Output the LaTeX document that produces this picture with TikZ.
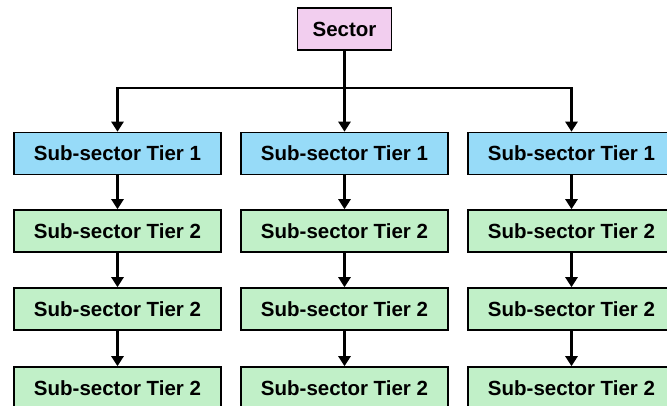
\documentclass[tikz,border=0pt]{standalone}
\usepackage{fontspec}
\setmainfont{Liberation Sans}
\usetikzlibrary{arrows.meta}
\definecolor{sectorpink}{HTML}{F2CEEF}
\definecolor{tierblue}{HTML}{97DBF8}
\definecolor{tiergreen}{HTML}{C1F0C8}

\begin{document}
\begin{tikzpicture}[x=1pt,y=-1pt,
		box/.style={draw=black,line width=1.6pt,minimum width=207pt,minimum height=42pt,inner sep=0pt,
			font=\fontsize{20.5}{23}\selectfont\bfseries},
		tierone/.style={box,fill=tierblue},
		tiertwo/.style={box,fill=tiergreen},
		link/.style={line width=2.5pt,-{Triangle[length=10pt,width=12pt]}}]
		\useasboundingbox (0,0) rectangle (667,405);
		
		\node[box,fill=sectorpink,minimum width=94pt] (sector) at (344.5,29) {Sector};
		\coordinate (split) at (344.5,88);
		
		\node[tierone] (leftone) at (117.5,153.5) {Sub-sector Tier 1};
		\node[tierone] (midone) at (344.5,153.5) {Sub-sector Tier 1};
		\node[tierone] (rightone) at (571.5,153.5) {Sub-sector Tier 1};
		
		\node[tiertwo] (lefttwo) at (117.5,231) {Sub-sector Tier 2};
		\node[tiertwo] (leftthree) at (117.5,309) {Sub-sector Tier 2};
		\node[tiertwo] (leftfour) at (117.5,388) {Sub-sector Tier 2};
		
		\node[tiertwo] (midtwo) at (344.5,231) {Sub-sector Tier 2};
		\node[tiertwo] (midthree) at (344.5,309) {Sub-sector Tier 2};
		\node[tiertwo] (midfour) at (344.5,388) {Sub-sector Tier 2};
		
		\node[tiertwo] (righttwo) at (571.5,231) {Sub-sector Tier 2};
		\node[tiertwo] (rightthree) at (571.5,309) {Sub-sector Tier 2};
		\node[tiertwo] (rightfour) at (571.5,388) {Sub-sector Tier 2};
		
		\draw[link] (sector.south) -- (midone.north);
		\draw[link] (split) -| (leftone.north);
		\draw[link] (split) -| (rightone.north);
		
		\draw[link] (leftone) -- (lefttwo);
		\draw[link] (lefttwo) -- (leftthree);
		\draw[link] (leftthree) -- (leftfour);
		
		\draw[link] (midone) -- (midtwo);
		\draw[link] (midtwo) -- (midthree);
		\draw[link] (midthree) -- (midfour);
		
		\draw[link] (rightone) -- (righttwo);
		\draw[link] (righttwo) -- (rightthree);
		\draw[link] (rightthree) -- (rightfour);
		
	\end{tikzpicture}
\end{document}
